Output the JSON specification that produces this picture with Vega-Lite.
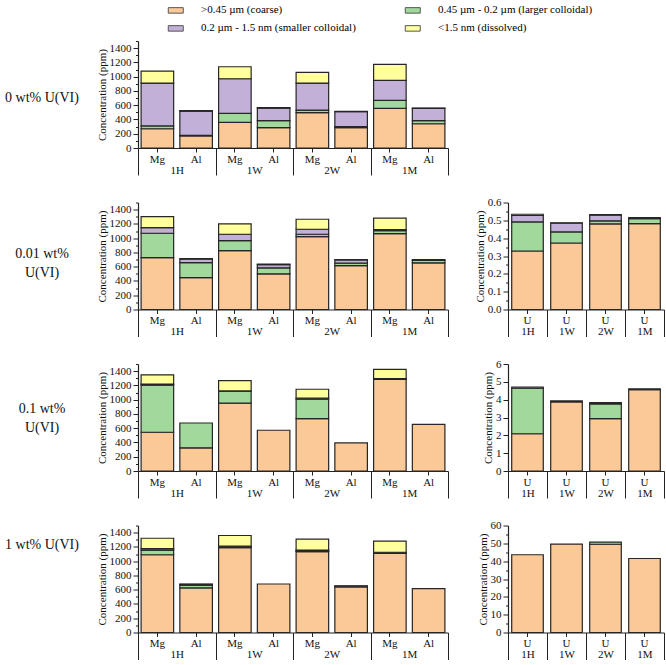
{
  "$schema": "https://vega.github.io/schema/vega-lite/v6.json",
  "padding": {"left": 5, "top": 2, "right": 0, "bottom": 0},
  "background": "white",
  "columns": 3,
  "spacing": {"row": 54.5, "column": 60},
  "bounds": "flush",
  "align": "each",
  "concat": [
    {
      "width": 72, "height": 107,
      "data": {"values": [{"t": "0 wt% U(VI)"}]},
      "mark": {"type": "text", "fontSize": 14, "dy": 3, "font": "Liberation Serif", "color": "#111"},
      "encoding": {"text": {"field": "t", "type": "nominal"}}
    },
    {
      "width": 310, "height": 107,
      "data": {"values": [
        {"g": "1H", "m": "Mg", "coarse": 270, "larger": 40, "smaller": 600, "dissolved": 168},
        {"g": "1H", "m": "Al", "coarse": 168, "larger": 10, "smaller": 340, "dissolved": 5},
        {"g": "1W", "m": "Mg", "coarse": 360, "larger": 126, "smaller": 485, "dissolved": 168},
        {"g": "1W", "m": "Al", "coarse": 285, "larger": 98, "smaller": 177, "dissolved": 5},
        {"g": "2W", "m": "Mg", "coarse": 495, "larger": 37, "smaller": 378, "dissolved": 150},
        {"g": "2W", "m": "Al", "coarse": 285, "larger": 15, "smaller": 208, "dissolved": 5},
        {"g": "1M", "m": "Mg", "coarse": 556, "larger": 112, "smaller": 280, "dissolved": 224},
        {"g": "1M", "m": "Al", "coarse": 340, "larger": 45, "smaller": 170, "dissolved": 5}
      ]},
      "transform": [
        {"calculate": "datum.g + ' ' + datum.m", "as": "gm"},
        {"fold": ["coarse", "larger", "smaller", "dissolved"], "as": ["s", "v"]},
        {"filter": "datum.v > 0"},
        {"calculate": "indexof(['coarse','larger','smaller','dissolved'], datum.s)", "as": "k"}
      ],
      "layer": [
        {
          "mark": {"type": "bar", "stroke": "#262626", "strokeWidth": 1.2},
          "encoding": {
            "x": {"field": "gm", "type": "nominal", "sort": null, "scale": {"type": "band", "paddingInner": 0.16, "paddingOuter": 0.08},
                  "axis": {"orient": "bottom", "title": null, "labelAngle": 0, "labelExpr": "split(datum.value, ' ')[1]", "tickSize": 4, "labelPadding": 1}},
            "y": {"field": "v", "type": "quantitative", "stack": "zero", "scale": {"domain": [0, 1500], "nice": false},
                  "axis": {"title": "Concentration (ppm)", "format": "d", "values": [0,100,200,300,400,500,600,700,800,900,1000,1100,1200,1300,1400,1500],
                           "labelExpr": "datum.value % 200 === 0 ? datum.label : ''",
                           "tickSize": {"condition": {"test": "datum.value % 200 !== 0", "value": 2.5}, "value": 5}}},
            "color": {"field": "s", "type": "nominal", "scale": {"domain": ["coarse", "larger", "smaller", "dissolved"], "range": ["#FBC898", "#A0D99B", "#C2B0D8", "#FFFF9D"]},
                      "legend": {"title": null, "orient": "none", "legendX": 158, "legendY": -38.6, "direction": "horizontal", "columns": 2, "symbolType": "M-0.5,-0.367H1.5V0.367H-0.5Z", "symbolSize": 225, "symbolStrokeColor": "#555", "symbolStrokeWidth": 1, "labelOffset": 21, "columnPadding": 45, "rowPadding": 5, "labelFontSize": 11, "labelFont": "Liberation Serif", "labelLimit": 0, "padding": 0,
                                 "labelExpr": "datum.label == 'coarse' ? '>0.45 µm (coarse)' : datum.label == 'larger' ? '0.45 µm - 0.2 µm (larger colloidal)' : datum.label == 'smaller' ? '0.2 µm - 1.5 nm (smaller colloidal)' : '<1.5 nm (dissolved)'"}},
            "order": {"field": "k", "type": "quantitative"}
          }
        },
        {
          "mark": {"type": "rule", "strokeOpacity": 0},
          "encoding": {
            "x": {"field": "g", "type": "nominal", "sort": null, "scale": {"type": "band", "paddingInner": 0, "paddingOuter": 0},
                  "axis": {"orient": "bottom", "title": null, "domain": false, "labelAngle": 0, "tickBand": "extent", "tickSize": 27, "labelPadding": -11}}
          }
        }
      ],
      "resolve": {"scale": {"x": "independent"}, "axis": {"x": "independent"}}
    },
    {
      "width": 156, "height": 107,
      "data": {"values": []},
      "mark": "point"
    },
    {
      "width": 72, "height": 107,
      "data": {"values": [{"t": ["0.01 wt%", "U(VI)"]}]},
      "mark": {"type": "text", "fontSize": 14, "dy": -2, "lineHeight": 19, "font": "Liberation Serif", "color": "#111"},
      "encoding": {"text": {"field": "t", "type": "nominal"}}
    },
    {
      "width": 310, "height": 107,
      "data": {"values": [
        {"g": "1H", "m": "Mg", "coarse": 728, "larger": 341, "smaller": 79, "dissolved": 154},
        {"g": "1H", "m": "Al", "coarse": 448, "larger": 210, "smaller": 47, "dissolved": 8},
        {"g": "1W", "m": "Mg", "coarse": 826, "larger": 140, "smaller": 89, "dissolved": 145},
        {"g": "1W", "m": "Al", "coarse": 500, "larger": 84, "smaller": 45, "dissolved": 6},
        {"g": "2W", "m": "Mg", "coarse": 1023, "larger": 32, "smaller": 70, "dissolved": 140},
        {"g": "2W", "m": "Al", "coarse": 616, "larger": 33, "smaller": 45, "dissolved": 6},
        {"g": "1M", "m": "Mg", "coarse": 1065, "larger": 40, "smaller": 15, "dissolved": 160},
        {"g": "1M", "m": "Al", "coarse": 655, "larger": 35, "smaller": 10, "dissolved": 0}
      ]},
      "transform": [
        {"calculate": "datum.g + ' ' + datum.m", "as": "gm"},
        {"fold": ["coarse", "larger", "smaller", "dissolved"], "as": ["s", "v"]},
        {"filter": "datum.v > 0"},
        {"calculate": "indexof(['coarse','larger','smaller','dissolved'], datum.s)", "as": "k"}
      ],
      "layer": [
        {
          "mark": {"type": "bar", "stroke": "#262626", "strokeWidth": 1.2},
          "encoding": {
            "x": {"field": "gm", "type": "nominal", "sort": null, "scale": {"type": "band", "paddingInner": 0.16, "paddingOuter": 0.08},
                  "axis": {"orient": "bottom", "title": null, "labelAngle": 0, "labelExpr": "split(datum.value, ' ')[1]", "tickSize": 4, "labelPadding": 1}},
            "y": {"field": "v", "type": "quantitative", "stack": "zero", "scale": {"domain": [0, 1500], "nice": false},
                  "axis": {"title": "Concentration (ppm)", "format": "d", "values": [0,100,200,300,400,500,600,700,800,900,1000,1100,1200,1300,1400,1500],
                           "labelExpr": "datum.value % 200 === 0 ? datum.label : ''",
                           "tickSize": {"condition": {"test": "datum.value % 200 !== 0", "value": 2.5}, "value": 5}}},
            "color": {"field": "s", "type": "nominal", "scale": {"domain": ["coarse", "larger", "smaller", "dissolved"], "range": ["#FBC898", "#A0D99B", "#C2B0D8", "#FFFF9D"]},
                      "legend": {"title": null, "orient": "none", "legendX": 158, "legendY": -38.6, "direction": "horizontal", "columns": 2, "symbolType": "M-0.5,-0.367H1.5V0.367H-0.5Z", "symbolSize": 225, "symbolStrokeColor": "#555", "symbolStrokeWidth": 1, "labelOffset": 21, "columnPadding": 45, "rowPadding": 5, "labelFontSize": 11, "labelFont": "Liberation Serif", "labelLimit": 0, "padding": 0,
                                 "labelExpr": "datum.label == 'coarse' ? '>0.45 µm (coarse)' : datum.label == 'larger' ? '0.45 µm - 0.2 µm (larger colloidal)' : datum.label == 'smaller' ? '0.2 µm - 1.5 nm (smaller colloidal)' : '<1.5 nm (dissolved)'"}},
            "order": {"field": "k", "type": "quantitative"}
          }
        },
        {
          "mark": {"type": "rule", "strokeOpacity": 0},
          "encoding": {
            "x": {"field": "g", "type": "nominal", "sort": null, "scale": {"type": "band", "paddingInner": 0, "paddingOuter": 0},
                  "axis": {"orient": "bottom", "title": null, "domain": false, "labelAngle": 0, "tickBand": "extent", "tickSize": 27, "labelPadding": -11}}
          }
        }
      ],
      "resolve": {"scale": {"x": "independent"}, "axis": {"x": "independent"}}
    },
    {
      "width": 156, "height": 107,
      "data": {"values": [
        {"g": "1H", "coarse": 0.328, "larger": 0.163, "smaller": 0.036, "dissolved": 0.007},
        {"g": "1W", "coarse": 0.373, "larger": 0.062, "smaller": 0.049, "dissolved": 0.002},
        {"g": "2W", "coarse": 0.48, "larger": 0.017, "smaller": 0.032, "dissolved": 0.003},
        {"g": "1M", "coarse": 0.482, "larger": 0.028, "smaller": 0.005, "dissolved": 0}
      ]},
      "transform": [
        {"fold": ["coarse", "larger", "smaller", "dissolved"], "as": ["s", "v"]},
        {"filter": "datum.v > 0"},
        {"calculate": "indexof(['coarse','larger','smaller','dissolved'], datum.s)", "as": "k"}
      ],
      "layer": [
        {
          "mark": {"type": "bar", "stroke": "#262626", "strokeWidth": 1.2, "width": {"band": 0.81}},
          "encoding": {
            "x": {"field": "g", "type": "nominal", "sort": null, "scale": {"type": "band", "paddingInner": 0, "paddingOuter": 0},
                  "axis": {"orient": "bottom", "title": null, "labelAngle": 0, "labelExpr": "'U'", "tickSize": 4, "labelPadding": 1}},
            "y": {"field": "v", "type": "quantitative", "stack": "zero", "scale": {"domain": [0, 0.6], "nice": false},
                  "axis": {"title": "Concentration (ppm)", "values": [0,0.05,0.1,0.15,0.2,0.25,0.3,0.35,0.4,0.45,0.5,0.55,0.6], "format": ".1f",
                           "labelExpr": "abs(datum.value*10 - round(datum.value*10)) < 0.001 ? datum.label : ''",
                           "tickSize": {"condition": {"test": "abs(datum.value*10 - round(datum.value*10)) >= 0.001", "value": 2.5}, "value": 5}}},
            "color": {"field": "s", "type": "nominal", "scale": {"domain": ["coarse", "larger", "smaller", "dissolved"], "range": ["#FBC898", "#A0D99B", "#C2B0D8", "#FFFF9D"]},
                      "legend": {"title": null, "orient": "none", "legendX": 158, "legendY": -38.6, "direction": "horizontal", "columns": 2, "symbolType": "M-0.5,-0.367H1.5V0.367H-0.5Z", "symbolSize": 225, "symbolStrokeColor": "#555", "symbolStrokeWidth": 1, "labelOffset": 21, "columnPadding": 45, "rowPadding": 5, "labelFontSize": 11, "labelFont": "Liberation Serif", "labelLimit": 0, "padding": 0,
                                 "labelExpr": "datum.label == 'coarse' ? '>0.45 µm (coarse)' : datum.label == 'larger' ? '0.45 µm - 0.2 µm (larger colloidal)' : datum.label == 'smaller' ? '0.2 µm - 1.5 nm (smaller colloidal)' : '<1.5 nm (dissolved)'"}},
            "order": {"field": "k", "type": "quantitative"}
          }
        },
        {
          "mark": {"type": "rule", "strokeOpacity": 0},
          "encoding": {
            "x": {"field": "g", "type": "nominal", "sort": null, "scale": {"type": "band", "paddingInner": 0, "paddingOuter": 0},
                  "axis": {"orient": "bottom", "title": null, "domain": false, "labelAngle": 0, "tickBand": "extent", "tickSize": 27, "labelPadding": -11}}
          }
        }
      ],
      "resolve": {"axis": {"x": "independent"}}
    },
    {
      "width": 72, "height": 107,
      "data": {"values": [{"t": ["0.1 wt%", "U(VI)"]}]},
      "mark": {"type": "text", "fontSize": 14, "dy": -9, "lineHeight": 19, "font": "Liberation Serif", "color": "#111"},
      "encoding": {"text": {"field": "t", "type": "nominal"}}
    },
    {
      "width": 310, "height": 107,
      "data": {"values": [
        {"g": "1H", "m": "Mg", "coarse": 543, "larger": 660, "smaller": 15, "dissolved": 130},
        {"g": "1H", "m": "Al", "coarse": 325, "larger": 348, "smaller": 0, "dissolved": 0},
        {"g": "1W", "m": "Mg", "coarse": 951, "larger": 167, "smaller": 5, "dissolved": 144},
        {"g": "1W", "m": "Al", "coarse": 571, "larger": 0, "smaller": 0, "dissolved": 0},
        {"g": "2W", "m": "Mg", "coarse": 733, "larger": 274, "smaller": 14, "dissolved": 125},
        {"g": "2W", "m": "Al", "coarse": 394, "larger": 0, "smaller": 0, "dissolved": 0},
        {"g": "1M", "m": "Mg", "coarse": 1284, "larger": 5, "smaller": 5, "dissolved": 130},
        {"g": "1M", "m": "Al", "coarse": 654, "larger": 0, "smaller": 0, "dissolved": 0}
      ]},
      "transform": [
        {"calculate": "datum.g + ' ' + datum.m", "as": "gm"},
        {"fold": ["coarse", "larger", "smaller", "dissolved"], "as": ["s", "v"]},
        {"filter": "datum.v > 0"},
        {"calculate": "indexof(['coarse','larger','smaller','dissolved'], datum.s)", "as": "k"}
      ],
      "layer": [
        {
          "mark": {"type": "bar", "stroke": "#262626", "strokeWidth": 1.2},
          "encoding": {
            "x": {"field": "gm", "type": "nominal", "sort": null, "scale": {"type": "band", "paddingInner": 0.16, "paddingOuter": 0.08},
                  "axis": {"orient": "bottom", "title": null, "labelAngle": 0, "labelExpr": "split(datum.value, ' ')[1]", "tickSize": 4, "labelPadding": 1}},
            "y": {"field": "v", "type": "quantitative", "stack": "zero", "scale": {"domain": [0, 1500], "nice": false},
                  "axis": {"title": "Concentration (ppm)", "format": "d", "values": [0,100,200,300,400,500,600,700,800,900,1000,1100,1200,1300,1400,1500],
                           "labelExpr": "datum.value % 200 === 0 ? datum.label : ''",
                           "tickSize": {"condition": {"test": "datum.value % 200 !== 0", "value": 2.5}, "value": 5}}},
            "color": {"field": "s", "type": "nominal", "scale": {"domain": ["coarse", "larger", "smaller", "dissolved"], "range": ["#FBC898", "#A0D99B", "#C2B0D8", "#FFFF9D"]},
                      "legend": {"title": null, "orient": "none", "legendX": 158, "legendY": -38.6, "direction": "horizontal", "columns": 2, "symbolType": "M-0.5,-0.367H1.5V0.367H-0.5Z", "symbolSize": 225, "symbolStrokeColor": "#555", "symbolStrokeWidth": 1, "labelOffset": 21, "columnPadding": 45, "rowPadding": 5, "labelFontSize": 11, "labelFont": "Liberation Serif", "labelLimit": 0, "padding": 0,
                                 "labelExpr": "datum.label == 'coarse' ? '>0.45 µm (coarse)' : datum.label == 'larger' ? '0.45 µm - 0.2 µm (larger colloidal)' : datum.label == 'smaller' ? '0.2 µm - 1.5 nm (smaller colloidal)' : '<1.5 nm (dissolved)'"}},
            "order": {"field": "k", "type": "quantitative"}
          }
        },
        {
          "mark": {"type": "rule", "strokeOpacity": 0},
          "encoding": {
            "x": {"field": "g", "type": "nominal", "sort": null, "scale": {"type": "band", "paddingInner": 0, "paddingOuter": 0},
                  "axis": {"orient": "bottom", "title": null, "domain": false, "labelAngle": 0, "tickBand": "extent", "tickSize": 27, "labelPadding": -11}}
          }
        }
      ],
      "resolve": {"scale": {"x": "independent"}, "axis": {"x": "independent"}}
    },
    {
      "width": 156, "height": 107,
      "data": {"values": [
        {"g": "1H", "coarse": 2.09, "larger": 2.55, "smaller": 0.07, "dissolved": 0},
        {"g": "1W", "coarse": 3.88, "larger": 0.05, "smaller": 0, "dissolved": 0},
        {"g": "2W", "coarse": 2.94, "larger": 0.82, "smaller": 0.07, "dissolved": 0},
        {"g": "1M", "coarse": 4.56, "larger": 0.05, "smaller": 0, "dissolved": 0}
      ]},
      "transform": [
        {"fold": ["coarse", "larger", "smaller", "dissolved"], "as": ["s", "v"]},
        {"filter": "datum.v > 0"},
        {"calculate": "indexof(['coarse','larger','smaller','dissolved'], datum.s)", "as": "k"}
      ],
      "layer": [
        {
          "mark": {"type": "bar", "stroke": "#262626", "strokeWidth": 1.2, "width": {"band": 0.81}},
          "encoding": {
            "x": {"field": "g", "type": "nominal", "sort": null, "scale": {"type": "band", "paddingInner": 0, "paddingOuter": 0},
                  "axis": {"orient": "bottom", "title": null, "labelAngle": 0, "labelExpr": "'U'", "tickSize": 4, "labelPadding": 1}},
            "y": {"field": "v", "type": "quantitative", "stack": "zero", "scale": {"domain": [0, 6], "nice": false},
                  "axis": {"title": "Concentration (ppm)", "format": "d", "values": [0,0.5,1,1.5,2,2.5,3,3.5,4,4.5,5,5.5,6],
                           "labelExpr": "datum.value % 1 === 0 ? datum.label : ''",
                           "tickSize": {"condition": {"test": "datum.value % 1 !== 0", "value": 2.5}, "value": 5}}},
            "color": {"field": "s", "type": "nominal", "scale": {"domain": ["coarse", "larger", "smaller", "dissolved"], "range": ["#FBC898", "#A0D99B", "#C2B0D8", "#FFFF9D"]},
                      "legend": {"title": null, "orient": "none", "legendX": 158, "legendY": -38.6, "direction": "horizontal", "columns": 2, "symbolType": "M-0.5,-0.367H1.5V0.367H-0.5Z", "symbolSize": 225, "symbolStrokeColor": "#555", "symbolStrokeWidth": 1, "labelOffset": 21, "columnPadding": 45, "rowPadding": 5, "labelFontSize": 11, "labelFont": "Liberation Serif", "labelLimit": 0, "padding": 0,
                                 "labelExpr": "datum.label == 'coarse' ? '>0.45 µm (coarse)' : datum.label == 'larger' ? '0.45 µm - 0.2 µm (larger colloidal)' : datum.label == 'smaller' ? '0.2 µm - 1.5 nm (smaller colloidal)' : '<1.5 nm (dissolved)'"}},
            "order": {"field": "k", "type": "quantitative"}
          }
        },
        {
          "mark": {"type": "rule", "strokeOpacity": 0},
          "encoding": {
            "x": {"field": "g", "type": "nominal", "sort": null, "scale": {"type": "band", "paddingInner": 0, "paddingOuter": 0},
                  "axis": {"orient": "bottom", "title": null, "domain": false, "labelAngle": 0, "tickBand": "extent", "tickSize": 27, "labelPadding": -11}}
          }
        }
      ],
      "resolve": {"axis": {"x": "independent"}}
    },
    {
      "width": 72, "height": 107,
      "data": {"values": [{"t": "1 wt% U(VI)"}]},
      "mark": {"type": "text", "fontSize": 14, "dy": -34, "font": "Liberation Serif", "color": "#111"},
      "encoding": {"text": {"field": "t", "type": "nominal"}}
    },
    {
      "width": 310, "height": 107,
      "data": {"values": [
        {"g": "1H", "m": "Mg", "coarse": 1090, "larger": 66, "smaller": 20, "dissolved": 145},
        {"g": "1H", "m": "Al", "coarse": 625, "larger": 40, "smaller": 10, "dissolved": 5},
        {"g": "1W", "m": "Mg", "coarse": 1190, "larger": 10, "smaller": 10, "dissolved": 150},
        {"g": "1W", "m": "Al", "coarse": 680, "larger": 0, "smaller": 0, "dissolved": 0},
        {"g": "2W", "m": "Mg", "coarse": 1135, "larger": 10, "smaller": 10, "dissolved": 155},
        {"g": "2W", "m": "Al", "coarse": 640, "larger": 10, "smaller": 5, "dissolved": 0},
        {"g": "1M", "m": "Mg", "coarse": 1110, "larger": 10, "smaller": 5, "dissolved": 155},
        {"g": "1M", "m": "Al", "coarse": 615, "larger": 0, "smaller": 0, "dissolved": 0}
      ]},
      "transform": [
        {"calculate": "datum.g + ' ' + datum.m", "as": "gm"},
        {"fold": ["coarse", "larger", "smaller", "dissolved"], "as": ["s", "v"]},
        {"filter": "datum.v > 0"},
        {"calculate": "indexof(['coarse','larger','smaller','dissolved'], datum.s)", "as": "k"}
      ],
      "layer": [
        {
          "mark": {"type": "bar", "stroke": "#262626", "strokeWidth": 1.2},
          "encoding": {
            "x": {"field": "gm", "type": "nominal", "sort": null, "scale": {"type": "band", "paddingInner": 0.16, "paddingOuter": 0.08},
                  "axis": {"orient": "bottom", "title": null, "labelAngle": 0, "labelExpr": "split(datum.value, ' ')[1]", "tickSize": 4, "labelPadding": 1}},
            "y": {"field": "v", "type": "quantitative", "stack": "zero", "scale": {"domain": [0, 1500], "nice": false},
                  "axis": {"title": "Concentration (ppm)", "format": "d", "values": [0,100,200,300,400,500,600,700,800,900,1000,1100,1200,1300,1400,1500],
                           "labelExpr": "datum.value % 200 === 0 ? datum.label : ''",
                           "tickSize": {"condition": {"test": "datum.value % 200 !== 0", "value": 2.5}, "value": 5}}},
            "color": {"field": "s", "type": "nominal", "scale": {"domain": ["coarse", "larger", "smaller", "dissolved"], "range": ["#FBC898", "#A0D99B", "#C2B0D8", "#FFFF9D"]},
                      "legend": {"title": null, "orient": "none", "legendX": 158, "legendY": -38.6, "direction": "horizontal", "columns": 2, "symbolType": "M-0.5,-0.367H1.5V0.367H-0.5Z", "symbolSize": 225, "symbolStrokeColor": "#555", "symbolStrokeWidth": 1, "labelOffset": 21, "columnPadding": 45, "rowPadding": 5, "labelFontSize": 11, "labelFont": "Liberation Serif", "labelLimit": 0, "padding": 0,
                                 "labelExpr": "datum.label == 'coarse' ? '>0.45 µm (coarse)' : datum.label == 'larger' ? '0.45 µm - 0.2 µm (larger colloidal)' : datum.label == 'smaller' ? '0.2 µm - 1.5 nm (smaller colloidal)' : '<1.5 nm (dissolved)'"}},
            "order": {"field": "k", "type": "quantitative"}
          }
        },
        {
          "mark": {"type": "rule", "strokeOpacity": 0},
          "encoding": {
            "x": {"field": "g", "type": "nominal", "sort": null, "scale": {"type": "band", "paddingInner": 0, "paddingOuter": 0},
                  "axis": {"orient": "bottom", "title": null, "domain": false, "labelAngle": 0, "tickBand": "extent", "tickSize": 27, "labelPadding": -11}}
          }
        }
      ],
      "resolve": {"scale": {"x": "independent"}, "axis": {"x": "independent"}}
    },
    {
      "width": 156, "height": 107,
      "data": {"values": [
        {"g": "1H", "coarse": 43.6, "larger": 0, "smaller": 0, "dissolved": 0},
        {"g": "1W", "coarse": 49.6, "larger": 0, "smaller": 0, "dissolved": 0},
        {"g": "2W", "coarse": 49.5, "larger": 1.2, "smaller": 0, "dissolved": 0},
        {"g": "1M", "coarse": 41.5, "larger": 0, "smaller": 0, "dissolved": 0}
      ]},
      "transform": [
        {"fold": ["coarse", "larger", "smaller", "dissolved"], "as": ["s", "v"]},
        {"filter": "datum.v > 0"},
        {"calculate": "indexof(['coarse','larger','smaller','dissolved'], datum.s)", "as": "k"}
      ],
      "layer": [
        {
          "mark": {"type": "bar", "stroke": "#262626", "strokeWidth": 1.2, "width": {"band": 0.81}},
          "encoding": {
            "x": {"field": "g", "type": "nominal", "sort": null, "scale": {"type": "band", "paddingInner": 0, "paddingOuter": 0},
                  "axis": {"orient": "bottom", "title": null, "labelAngle": 0, "labelExpr": "'U'", "tickSize": 4, "labelPadding": 1}},
            "y": {"field": "v", "type": "quantitative", "stack": "zero", "scale": {"domain": [0, 60], "nice": false},
                  "axis": {"title": "Concentration (ppm)", "format": "d", "values": [0,5,10,15,20,25,30,35,40,45,50,55,60],
                           "labelExpr": "datum.value % 10 === 0 ? datum.label : ''",
                           "tickSize": {"condition": {"test": "datum.value % 10 !== 0", "value": 2.5}, "value": 5}}},
            "color": {"field": "s", "type": "nominal", "scale": {"domain": ["coarse", "larger", "smaller", "dissolved"], "range": ["#FBC898", "#A0D99B", "#C2B0D8", "#FFFF9D"]},
                      "legend": {"title": null, "orient": "none", "legendX": 158, "legendY": -38.6, "direction": "horizontal", "columns": 2, "symbolType": "M-0.5,-0.367H1.5V0.367H-0.5Z", "symbolSize": 225, "symbolStrokeColor": "#555", "symbolStrokeWidth": 1, "labelOffset": 21, "columnPadding": 45, "rowPadding": 5, "labelFontSize": 11, "labelFont": "Liberation Serif", "labelLimit": 0, "padding": 0,
                                 "labelExpr": "datum.label == 'coarse' ? '>0.45 µm (coarse)' : datum.label == 'larger' ? '0.45 µm - 0.2 µm (larger colloidal)' : datum.label == 'smaller' ? '0.2 µm - 1.5 nm (smaller colloidal)' : '<1.5 nm (dissolved)'"}},
            "order": {"field": "k", "type": "quantitative"}
          }
        },
        {
          "mark": {"type": "rule", "strokeOpacity": 0},
          "encoding": {
            "x": {"field": "g", "type": "nominal", "sort": null, "scale": {"type": "band", "paddingInner": 0, "paddingOuter": 0},
                  "axis": {"orient": "bottom", "title": null, "domain": false, "labelAngle": 0, "tickBand": "extent", "tickSize": 27, "labelPadding": -11}}
          }
        }
      ],
      "resolve": {"axis": {"x": "independent"}}
    }
  ],
  "config": {
    "view": {"stroke": null},
    "font": "Liberation Serif",
    "axis": {"labelFont": "Liberation Serif", "labelFontSize": 11, "labelColor": "#111", "titleFont": "Liberation Serif", "titleFontSize": 11, "titleFontWeight": "normal", "titleColor": "#111", "domainColor": "#222", "tickColor": "#222", "domainWidth": 1.2, "tickWidth": 1, "grid": false},
    "axisY": {"titlePadding": 2, "labelPadding": 2}
  }
}
